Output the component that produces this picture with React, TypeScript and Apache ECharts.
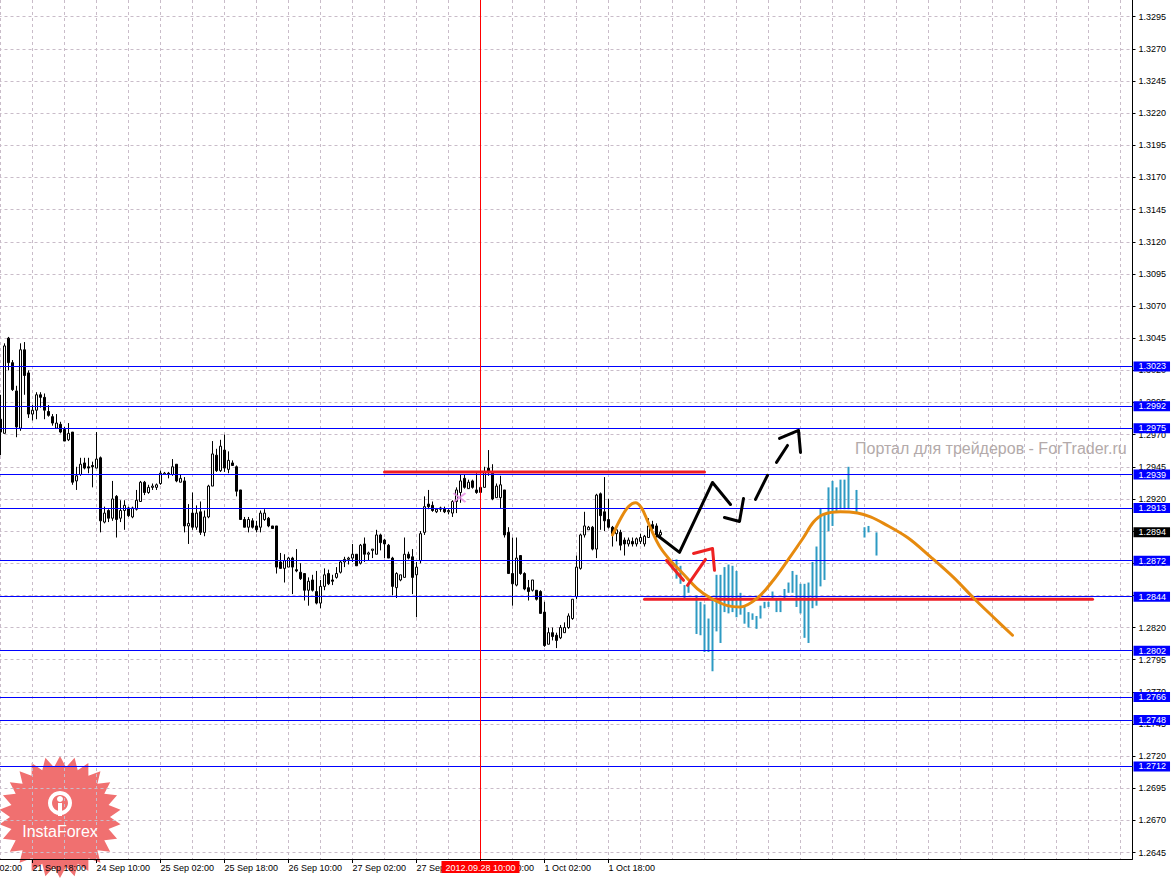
import React, { useEffect, useRef } from 'react';
import * as echarts from 'echarts';

const FONT = '"Liberation Sans", Arial, sans-serif';
const GRID_COLOR = '#c9bcc9';

// ---- axis definitions ----
const BAR_COUNT = 292; // hourly bars on the time axis (incl. empty future area)
const xTickLabels = [
  '21 Sep 02:00', '21 Sep 18:00', '24 Sep 10:00', '25 Sep 02:00', '25 Sep 18:00',
  '26 Sep 10:00', '27 Sep 02:00', '27 Sep 18:00', '28 Sep 10:00', '1 Oct 02:00', '1 Oct 18:00',
];
const yTickValues = [
  1.2645, 1.2670, 1.2695, 1.2720, 1.2745, 1.2770, 1.2795, 1.2820, 1.2845, 1.2870, 1.2895,
  1.2920, 1.2945, 1.2970, 1.2995, 1.3020, 1.3045, 1.3070, 1.3095, 1.3120, 1.3145, 1.3170,
  1.3195, 1.3220, 1.3245, 1.3270, 1.3295,
];
const yMin = 1.2640;
const yMax = 1.3308;

// ---- horizontal levels ----
const levelLines = [1.3023, 1.2992, 1.2975, 1.2939, 1.2913, 1.2872, 1.2844, 1.2802, 1.2766, 1.2748, 1.2712];
const lastPrice = 1.2894;
const cursorBar = '28 Sep 10:00';
const cursorLabel = '2012.09.28 10:00';
const firstCandleBar = '21 Sep 10:00';

// ---- EURUSD H1 candles [open, close, low, high] ----
const candles: number[][] = [
  [1.2982, 1.2972, 1.2954, 1.3001], [1.2971, 1.3039, 1.2971, 1.3041], [1.3045, 1.3026, 1.3020, 1.3046],
  [1.3026, 1.3005, 1.3004, 1.3028], [1.3004, 1.2976, 1.2968, 1.3008], [1.2975, 1.3036, 1.2973, 1.3041],
  [1.3036, 1.3016, 1.3001, 1.3042], [1.3018, 1.2986, 1.2983, 1.3020], [1.2986, 1.2989, 1.2981, 1.2993],
  [1.2989, 1.3001, 1.2982, 1.3003], [1.3001, 1.2999, 1.2991, 1.3003], [1.2999, 1.2989, 1.2982, 1.3002],
  [1.2988, 1.2985, 1.2984, 1.2993], [1.2984, 1.2979, 1.2977, 1.2986], [1.2975, 1.2979, 1.2975, 1.2986],
  [1.2978, 1.2972, 1.2971, 1.2980], [1.2974, 1.2965, 1.2965, 1.2976], [1.2966, 1.2971, 1.2965, 1.2979],
  [1.2972, 1.2933, 1.2931, 1.2972], [1.2934, 1.2938, 1.2927, 1.2945], [1.2939, 1.2947, 1.2938, 1.2952],
  [1.2948, 1.2944, 1.2943, 1.2952], [1.2945, 1.2944, 1.2940, 1.2952], [1.2946, 1.2945, 1.2929, 1.2949],
  [1.2944, 1.2951, 1.2944, 1.2972], [1.2952, 1.2903, 1.2894, 1.2953], [1.2902, 1.2909, 1.2901, 1.2914],
  [1.2911, 1.2905, 1.2902, 1.2912], [1.2905, 1.2920, 1.2903, 1.2934], [1.2922, 1.2904, 1.2890, 1.2923],
  [1.2905, 1.2911, 1.2902, 1.2919], [1.2911, 1.2915, 1.2896, 1.2919], [1.2913, 1.2907, 1.2906, 1.2914],
  [1.2906, 1.2913, 1.2905, 1.2914], [1.2912, 1.2919, 1.2911, 1.2927], [1.2918, 1.2933, 1.2918, 1.2934],
  [1.2933, 1.2925, 1.2923, 1.2934], [1.2925, 1.2929, 1.2924, 1.2931], [1.2929, 1.2930, 1.2927, 1.2932],
  [1.2929, 1.2931, 1.2927, 1.2932], [1.2932, 1.2940, 1.2931, 1.2942], [1.2939, 1.2940, 1.2939, 1.2941],
  [1.2940, 1.2939, 1.2936, 1.2941], [1.2939, 1.2945, 1.2938, 1.2951], [1.2947, 1.2934, 1.2933, 1.2947],
  [1.2933, 1.2936, 1.2933, 1.2939], [1.2934, 1.2899, 1.2894, 1.2937], [1.2899, 1.2901, 1.2885, 1.2916],
  [1.2909, 1.2898, 1.2896, 1.2925], [1.2898, 1.2909, 1.2896, 1.2915], [1.2910, 1.2894, 1.2892, 1.2918],
  [1.2894, 1.2906, 1.2891, 1.2911], [1.2906, 1.2930, 1.2905, 1.2931], [1.2930, 1.2955, 1.2930, 1.2965],
  [1.2954, 1.2942, 1.2941, 1.2959], [1.2942, 1.2961, 1.2941, 1.2966], [1.2958, 1.2944, 1.2941, 1.2970],
  [1.2943, 1.2950, 1.2940, 1.2957], [1.2948, 1.2946, 1.2946, 1.2950], [1.2945, 1.2926, 1.2922, 1.2946],
  [1.2927, 1.2904, 1.2904, 1.2927], [1.2904, 1.2898, 1.2898, 1.2906], [1.2898, 1.2904, 1.2894, 1.2906],
  [1.2903, 1.2898, 1.2897, 1.2905], [1.2899, 1.2896, 1.2894, 1.2903], [1.2898, 1.2909, 1.2894, 1.2911],
  [1.2904, 1.2909, 1.2903, 1.2912], [1.2905, 1.2899, 1.2898, 1.2906], [1.2899, 1.2897, 1.2897, 1.2899],
  [1.2899, 1.2867, 1.2862, 1.2899], [1.2871, 1.2866, 1.2866, 1.2878], [1.2866, 1.2872, 1.2855, 1.2877],
  [1.2867, 1.2874, 1.2867, 1.2875], [1.2874, 1.2867, 1.2846, 1.2875], [1.2865, 1.2864, 1.2863, 1.2881],
  [1.2863, 1.2858, 1.2857, 1.2870], [1.2862, 1.2849, 1.2841, 1.2862], [1.2849, 1.2856, 1.2837, 1.2859],
  [1.2857, 1.2849, 1.2848, 1.2861], [1.2848, 1.2839, 1.2838, 1.2864], [1.2839, 1.2852, 1.2835, 1.2857],
  [1.2852, 1.2861, 1.2849, 1.2866], [1.2862, 1.2854, 1.2853, 1.2865], [1.2857, 1.2856, 1.2853, 1.2861],
  [1.2859, 1.2862, 1.2858, 1.2867], [1.2863, 1.2871, 1.2862, 1.2872], [1.2871, 1.2873, 1.2867, 1.2875],
  [1.2873, 1.2874, 1.2869, 1.2875], [1.2874, 1.2877, 1.2871, 1.2885], [1.2877, 1.2868, 1.2868, 1.2877],
  [1.2870, 1.2884, 1.2869, 1.2885], [1.2885, 1.2877, 1.2871, 1.2890], [1.2877, 1.2878, 1.2872, 1.2879],
  [1.2880, 1.2881, 1.2874, 1.2881], [1.2877, 1.2892, 1.2877, 1.2896], [1.2892, 1.2886, 1.2880, 1.2893],
  [1.2888, 1.2885, 1.2874, 1.2889], [1.2884, 1.2874, 1.2874, 1.2885], [1.2874, 1.2852, 1.2845, 1.2875],
  [1.2851, 1.2862, 1.2843, 1.2863], [1.2857, 1.2861, 1.2856, 1.2861], [1.2859, 1.2877, 1.2859, 1.2890],
  [1.2877, 1.2874, 1.2873, 1.2879], [1.2875, 1.2859, 1.2846, 1.2881], [1.2861, 1.2867, 1.2828, 1.2871],
  [1.2872, 1.2893, 1.2870, 1.2895], [1.2894, 1.2914, 1.2892, 1.2922], [1.2916, 1.2914, 1.2912, 1.2927],
  [1.2915, 1.2911, 1.2910, 1.2918], [1.2910, 1.2912, 1.2909, 1.2913], [1.2913, 1.2912, 1.2910, 1.2914],
  [1.2912, 1.2910, 1.2909, 1.2914], [1.2910, 1.2911, 1.2908, 1.2912], [1.2909, 1.2918, 1.2906, 1.2919],
  [1.2918, 1.2927, 1.2909, 1.2929], [1.2925, 1.2934, 1.2917, 1.2939], [1.2936, 1.2929, 1.2928, 1.2939],
  [1.2928, 1.2933, 1.2928, 1.2935], [1.2934, 1.2929, 1.2928, 1.2935], [1.2927, 1.2925, 1.2924, 1.2940],
  [1.2925, 1.2929, 1.2920, 1.2941], [1.2929, 1.2941, 1.2929, 1.2945], [1.2944, 1.2941, 1.2938, 1.2958],
  [1.2940, 1.2920, 1.2919, 1.2947], [1.2921, 1.2930, 1.2921, 1.2932], [1.2921, 1.2931, 1.2913, 1.2938],
  [1.2927, 1.2892, 1.2890, 1.2927], [1.2894, 1.2862, 1.2862, 1.2898], [1.2862, 1.2854, 1.2837, 1.2890],
  [1.2853, 1.2874, 1.2852, 1.2890], [1.2876, 1.2862, 1.2861, 1.2876], [1.2862, 1.2850, 1.2849, 1.2863],
  [1.2851, 1.2848, 1.2841, 1.2857], [1.2849, 1.2857, 1.2848, 1.2857], [1.2849, 1.2842, 1.2841, 1.2849],
  [1.2848, 1.2831, 1.2831, 1.2849], [1.2832, 1.2806, 1.2805, 1.2840], [1.2807, 1.2816, 1.2807, 1.2820],
  [1.2816, 1.2813, 1.2810, 1.2820], [1.2814, 1.2810, 1.2804, 1.2816], [1.2812, 1.2820, 1.2811, 1.2822],
  [1.2816, 1.2820, 1.2816, 1.2824], [1.2820, 1.2829, 1.2819, 1.2831], [1.2827, 1.2842, 1.2826, 1.2842],
  [1.2844, 1.2867, 1.2842, 1.2876], [1.2866, 1.2892, 1.2865, 1.2893], [1.2892, 1.2899, 1.2890, 1.2910],
  [1.2896, 1.2898, 1.2896, 1.2899], [1.2898, 1.2881, 1.2880, 1.2899], [1.2881, 1.2923, 1.2874, 1.2924],
  [1.2924, 1.2907, 1.2896, 1.2925], [1.2910, 1.2903, 1.2895, 1.2937], [1.2904, 1.2898, 1.2897, 1.2920],
  [1.2898, 1.2893, 1.2883, 1.2899], [1.2893, 1.2896, 1.2887, 1.2898], [1.2894, 1.2884, 1.2880, 1.2896],
  [1.2888, 1.2885, 1.2876, 1.2890], [1.2885, 1.2888, 1.2883, 1.2890], [1.2887, 1.2885, 1.2883, 1.2890],
  [1.2885, 1.2889, 1.2883, 1.2890], [1.2887, 1.2890, 1.2885, 1.2893], [1.2885, 1.2891, 1.2883, 1.2892],
  [1.2890, 1.2899, 1.2890, 1.2905], [1.2900, 1.2897, 1.2893, 1.2903], [1.2899, 1.2892, 1.2890, 1.2901],
  [1.2892, 1.2894, 1.2890, 1.2896],
];

// ---- projected analog bars [bar index, low, high] ----
const tealBars: number[][] = [
  [176, 1.2865, 1.2871], [177, 1.2858, 1.2873], [178, 1.2854, 1.2868], [179, 1.2843, 1.2853],
  [180, 1.2847, 1.2853], [182, 1.2815, 1.2845], [183, 1.2814, 1.2840], [184, 1.2801, 1.2838],
  [185, 1.2801, 1.2827], [186, 1.2786, 1.2841], [187, 1.2817, 1.2861], [188, 1.2808, 1.2861],
  [189, 1.2832, 1.2867], [190, 1.2831, 1.2869], [191, 1.2832, 1.2868], [192, 1.2828, 1.2864],
  [193, 1.2830, 1.2847], [194, 1.2823, 1.2836], [195, 1.2820, 1.2832], [196, 1.2826, 1.2831],
  [197, 1.2819, 1.2829], [198, 1.2827, 1.2837], [199, 1.2835, 1.2840], [200, 1.2836, 1.2840],
  [201, 1.2842, 1.2848], [202, 1.2832, 1.2843], [203, 1.2832, 1.2841], [204, 1.2843, 1.2850],
  [205, 1.2847, 1.2855], [206, 1.2847, 1.2864], [207, 1.2836, 1.2861], [208, 1.2831, 1.2854],
  [209, 1.2812, 1.2854], [210, 1.2808, 1.2855], [211, 1.2835, 1.2871], [212, 1.2837, 1.2883],
  [213, 1.2852, 1.2913], [214, 1.2857, 1.2909], [215, 1.2895, 1.2929], [216, 1.2899, 1.2934],
  [217, 1.2910, 1.2929], [218, 1.2912, 1.2935], [219, 1.2912, 1.2935], [220, 1.2912, 1.2945],
  [222, 1.2909, 1.2927], [224, 1.2890, 1.2898], [225, 1.2894, 1.2899], [227, 1.2876, 1.2894],
];

// ---- drawn objects (bar index, price) ----
const resistanceLine = [[104, 1.2941], [184, 1.2941]];
const supportLine = [[169, 1.2842], [281, 1.2842]];
const forecastCurve = [
  [161, 1.2892], [163.25, 1.2906], [165, 1.2914], [166.75, 1.2917], [168.25, 1.2913], [169.75, 1.2903],
  [171, 1.2894], [173, 1.2882], [175.5, 1.2872], [178, 1.2864], [182.25, 1.2850], [185.5, 1.2843],
  [189.75, 1.2837], [193, 1.2836], [197.25, 1.2843], [201.25, 1.2857], [204.75, 1.2872], [208.75, 1.2890],
  [211.25, 1.2902], [213.75, 1.2908], [218, 1.2910], [222.25, 1.2909], [225.5, 1.2906], [228.75, 1.2901],
  [234.75, 1.2890], [240.5, 1.2875], [246.25, 1.2859], [251.25, 1.2843], [256.25, 1.2828], [261, 1.2814],
];
const blackPath = [
  [[172.25, 1.28916], [177.75, 1.28784], [186, 1.29328], [190.5, 1.29157]],
  [[189, 1.29056], [192.75, 1.29025], [193.75, 1.29204]],
  [[196.75, 1.29196], [199.75, 1.29383]],
  [[202, 1.29484], [204.75, 1.29616]],
  [[202.75, 1.29671], [207.5, 1.29733], [208, 1.29562]],
];
const redPath = [
  [[174.5, 1.28722], [178.75, 1.28567]],
  [[179.75, 1.28528], [184.25, 1.2873]],
  [[181.25, 1.28776], [186, 1.28815], [186.5, 1.28645]],
];
const crossMarker = [[122.75, 1.2921]];

const MONTHS = ['Jan', 'Feb', 'Mar', 'Apr', 'May', 'Jun', 'Jul', 'Aug', 'Sep', 'Oct', 'Nov', 'Dec'];
function hourlyBars(count: number): string[] {
  const out: string[] = [];
  let t = Date.UTC(2012, 8, 21, 2);
  while (out.length < count) {
    const d = new Date(t);
    const wd = d.getUTCDay();
    if (wd !== 0 && wd !== 6) {
      out.push(`${d.getUTCDate()} ${MONTHS[d.getUTCMonth()]} ${String(d.getUTCHours()).padStart(2, '0')}:00`);
    }
    t += 3600000;
  }
  return out;
}

function buildOption() {
  const categories = hourlyBars(BAR_COUNT);
  const first = categories.indexOf(firstCandleBar);
  const cursorIdx = categories.indexOf(cursorBar);
  const empty = ['-', '-', '-', '-'];
  const candleData = categories.map((_, i) => {
    const k = i - first;
    return k >= 0 && k < candles.length ? candles[k] : empty;
  });
  const tealMap: Record<number, number[]> = {};
  tealBars.forEach(([i, lo, hi]) => { tealMap[i] = [lo, hi, lo, hi]; });
  const tealData = categories.map((_, i) => tealMap[i] || empty);
  const labelStep = 16;
  const lastLabelIdx = (xTickLabels.length - 1) * labelStep;
  const showTick = (i: number) => i % labelStep === 0 && i <= lastLabelIdx;

  const boxLabel = (text: string, bg: string) => ({
    show: true,
    position: 'end',
    distance: 1,
    formatter: text,
    color: '#ffffff',
    backgroundColor: bg,
    fontFamily: FONT,
    fontSize: 9,
    lineHeight: 9,
    padding: [1, 4, 0, 5],
  });

  const levelData: any[] = levelLines.map((v) => ({
    yAxis: v,
    lineStyle: { color: '#0000ff', width: 1, type: 'solid' },
    label: boxLabel(v.toFixed(4), '#0000ff'),
  }));
  levelData.push({
    yAxis: lastPrice,
    lineStyle: { color: 'rgba(0,0,0,0)', width: 0 },
    label: boxLabel(lastPrice.toFixed(4), '#000000'),
  });
  levelData.push({
    xAxis: cursorIdx,
    lineStyle: { color: '#ff0000', width: 1, type: 'solid' },
    label: {
      show: true,
      position: 'start',
      distance: 2,
      formatter: cursorLabel,
      color: '#ffffff',
      backgroundColor: '#ff0000',
      fontFamily: FONT,
      fontSize: 9,
      lineHeight: 9,
      padding: [2, 4, 1, 4],
    },
  });

  const lineSeries = (data: number[][], color: string, width: number, z: number, smooth: any = false) => ({
    type: 'line',
    xAxisIndex: 1,
    yAxisIndex: 0,
    data,
    smooth,
    showSymbol: false,
    symbol: 'none',
    silent: true,
    clip: false,
    lineStyle: { color, width, cap: 'round', join: 'round' },
    z,
  });

  const starPts: number[][] = [];
  const spikes = 26;
  for (let i = 0; i < spikes * 2; i++) {
    const a = (i * Math.PI) / spikes - Math.PI / 2;
    const r = i % 2 === 0 ? 61 : 50;
    starPts.push([60 + r * Math.cos(a), 817 + r * Math.sin(a)]);
  }

  return {
    animation: false,
    backgroundColor: '#ffffff',
    textStyle: { fontFamily: FONT },
    grid: {
      left: -31.5,
      top: 0,
      width: 1164,
      height: 859,
      containLabel: false,
      outerBoundsMode: 'none',
    },
    xAxis: [
      {
        type: 'category',
        data: categories,
        boundaryGap: false,
        z: 1,
        axisLine: { show: true, onZero: false, lineStyle: { color: '#000000', width: 1 } },
        axisTick: { show: true, interval: showTick, length: 4, lineStyle: { color: '#000000' } },
        axisLabel: {
          show: true,
          interval: showTick,
          formatter: (_v: string, i: number) => xTickLabels[i / labelStep] || '',
          align: 'left',
          margin: 4,
          color: '#000000',
          fontFamily: FONT,
          fontSize: 9,
          showMinLabel: true,
        },
        splitLine: { show: true, interval: 7, lineStyle: { color: GRID_COLOR, type: [3, 3], width: 1 } },
      },
      { type: 'value', min: 0, max: BAR_COUNT - 1, show: false, gridIndex: 0 },
    ],
    yAxis: {
      type: 'value',
      position: 'right',
      min: yMin,
      max: yMax,
      z: 1,
      axisLine: { show: true, onZero: false, lineStyle: { color: '#000000', width: 1 } },
      axisTick: { show: true, length: 3, customValues: yTickValues, lineStyle: { color: '#000000' } },
      axisLabel: {
        customValues: yTickValues,
        formatter: (v: number) => v.toFixed(4),
        margin: 6,
        color: '#000000',
        fontFamily: FONT,
        fontSize: 9,
      },
      splitLine: { show: true, lineStyle: { color: GRID_COLOR, type: [3, 3], width: 1 } },
    },
    series: [
      {
        type: 'candlestick',
        name: 'EURUSD H1',
        xAxisIndex: 0,
        yAxisIndex: 0,
        data: candleData,
        barWidth: 2,
        silent: true,
        itemStyle: {
          color: '#ffffff',
          color0: '#000000',
          borderColor: '#000000',
          borderColor0: '#000000',
          borderColorDoji: '#000000',
          borderWidth: 1,
        },
        markLine: {
          silent: true,
          symbol: ['none', 'none'],
          precision: 4,
          animation: false,
          data: levelData,
        },
        z: 3,
      },
      {
        type: 'candlestick',
        name: 'Analog',
        xAxisIndex: 0,
        yAxisIndex: 0,
        data: tealData,
        barWidth: 3,
        silent: true,
        itemStyle: {
          color: '#2d9ac3',
          color0: '#2d9ac3',
          borderColor: '#2d9ac3',
          borderColor0: '#2d9ac3',
          borderColorDoji: '#2d9ac3',
          borderWidth: 0,
        },
        z: 3,
      },
      lineSeries(resistanceLine, '#ee1c24', 3, 4),
      lineSeries(supportLine, '#ee1c24', 3, 4),
      lineSeries(forecastCurve, '#e68a0e', 3, 5, 0.35),
      ...blackPath.map((seg) => lineSeries(seg, '#000000', 3, 6)),
      ...redPath.map((seg) => lineSeries(seg, '#ee2222', 3, 6)),
      {
        type: 'scatter',
        xAxisIndex: 1,
        yAxisIndex: 0,
        data: crossMarker,
        symbol: 'path://M0,0L12,9M12,0L0,9',
        symbolSize: [12, 9],
        silent: true,
        itemStyle: { color: 'none', borderColor: '#e58ae5', borderWidth: 2 },
        z: 6,
      },
    ],
    graphic: [
      {
        type: 'text',
        left: 855,
        top: 440,
        z: 20,
        silent: true,
        style: {
          text: 'Портал для трейдеров - ForTrader.ru',
          fill: '#b3aaaa',
          font: `16px ${FONT}`,
        },
      },
      {
        type: 'polygon',
        z: 0,
        silent: true,
        shape: { points: starPts },
        style: { fill: '#f07070' },
      },
      {
        type: 'ring',
        z: 31,
        silent: true,
        shape: { cx: 60, cy: 803, r: 12, r0: 8 },
        style: { fill: '#ffffff' },
      },
      {
        type: 'circle',
        z: 31,
        silent: true,
        shape: { cx: 60, cy: 799, r: 3 },
        style: { fill: '#ffffff' },
      },
      {
        type: 'rect',
        z: 31,
        silent: true,
        shape: { x: 58, y: 803, width: 4, height: 13 },
        style: { fill: '#ffffff' },
      },
      {
        type: 'text',
        z: 31,
        silent: true,
        style: {
          text: 'InstaForex',
          x: 60,
          y: 831,
          align: 'center',
          verticalAlign: 'middle',
          fill: '#ffffff',
          font: `16px ${FONT}`,
        },
      },
    ],
  };
}

export default function App() {
  const ref = useRef<HTMLDivElement>(null);
  useEffect(() => {
    if (!ref.current) return;
    const chart = echarts.init(ref.current, undefined, { renderer: 'svg' });
    chart.setOption(buildOption() as any);
    return () => chart.dispose();
  }, []);
  return (
    <div
      ref={ref}
      style={{ position: 'absolute', left: 0, top: 0, width: 1171, height: 878, overflow: 'hidden', background: '#ffffff' }}
    />
  );
}
